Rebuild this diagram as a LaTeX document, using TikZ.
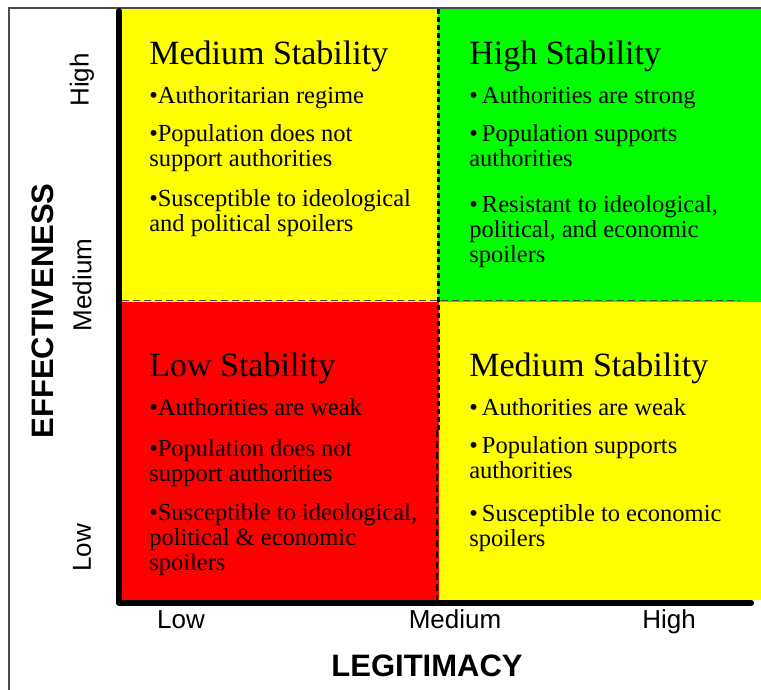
\documentclass[tikz,border=0pt]{standalone}
\usepackage{fontspec}
\setmainfont{Liberation Serif}
\setsansfont{Liberation Sans}
\usepackage{tikz}
\definecolor{quadyellow}{RGB}{255,255,0}
\definecolor{quadgreen}{RGB}{0,255,0}
\definecolor{quadred}{RGB}{255,0,0}

\begin{document}
\begin{tikzpicture}[x=1pt,y=-1pt,semithick]
  \tikzstyle{title}=[anchor=base west,inner sep=0pt,font=\fontsize{34}{34}\selectfont]
  \tikzstyle{item}=[anchor=base west,inner sep=0pt,align=left,font=\fontsize{24.5}{25}\selectfont]
  \tikzstyle{tick}=[inner sep=0pt,font=\sffamily\fontsize{26}{26}\selectfont]
  \tikzstyle{axis title}=[inner sep=0pt,font=\sffamily\bfseries\fontsize{31}{31}\selectfont]

  \useasboundingbox (0,0) rectangle (761,690);

  % quadrants
  \fill[quadyellow] (122,9) rectangle (438,302);
  \fill[quadgreen]  (438,9) rectangle (761,302);
  \fill[quadred]    (122,302) rectangle (439,600);
  \fill[quadyellow] (439,302) rectangle (761,600);

  % dividers
  \draw[line width=3pt,dash pattern=on 5pt off 3pt] (438,9) -- (438,430);
  \draw[line width=1.2pt,dash pattern=on 7pt off 4pt] (437,430) -- (437,600);
  \draw[line width=1pt,black!70,dash pattern=on 7pt off 4pt] (122,300.5) -- (740,300.5);

  % frame and axes
  \draw[gray!60!black,line width=1.2pt] (9,690) -- (9,8) -- (761,8);
  \draw[line width=6pt,line cap=round,line join=round] (119,11) -- (119,603) -- (751,603);

  % top left (multi-line items sit on their last line)
  \node[title] (A)  at (149,65)  {Medium Stability};
  \node[item]  (A1) at (149,104) {•Authoritarian regime};
  \node[item]  (A2) at (149,167) {•Population does not\\support authorities};
  \node[item]  (A3) at (149,232) {•Susceptible to ideological\\and political spoilers};

  % top right
  \node[title] (B)  at (469,65)  {High Stability};
  \node[item]  (B1) at (469,104) {•\,Authorities are strong};
  \node[item]  (B2) at (469,167) {•\,Population supports\\authorities};
  \node[item]  (B3) at (469,262) {•\,Resistant to ideological,\\political, and economic\\spoilers};

  % bottom left
  \node[title] (C)  at (149,376) {Low Stability};
  \node[item]  (C1) at (149,415) {•Authorities are weak};
  \node[item]  (C2) at (149,481) {•Population does not\\support authorities};
  \node[item]  (C3) at (149,570) {•Susceptible to ideological,\\political \& economic\\spoilers};

  % bottom right
  \node[title] (D)  at (469,376) {Medium Stability};
  \node[item]  (D1) at (469,415) {•\,Authorities are weak};
  \node[item]  (D2) at (469,478) {•\,Population supports\\authorities};
  \node[item]  (D3) at (469,546) {•\,Susceptible to economic\\spoilers};

  % axis labels
  \node[tick,rotate=90] (yhigh) at (82,80)  {High};
  \node[tick,rotate=90] (ymed)  at (82,285) {Medium};
  \node[tick,rotate=90] (ylow)  at (82,548) {Low};
  \node[tick,anchor=base] (xlow)  at (181,628) {Low};
  \node[tick,anchor=base] (xmed)  at (455,628) {Medium};
  \node[tick,anchor=base] (xhigh) at (669,628) {High};
  \node[axis title,rotate=90] (eff) at (43,311) {EFFECTIVENESS};
  \node[axis title] (leg) at (427,666) {LEGITIMACY};
\end{tikzpicture}
\end{document}
